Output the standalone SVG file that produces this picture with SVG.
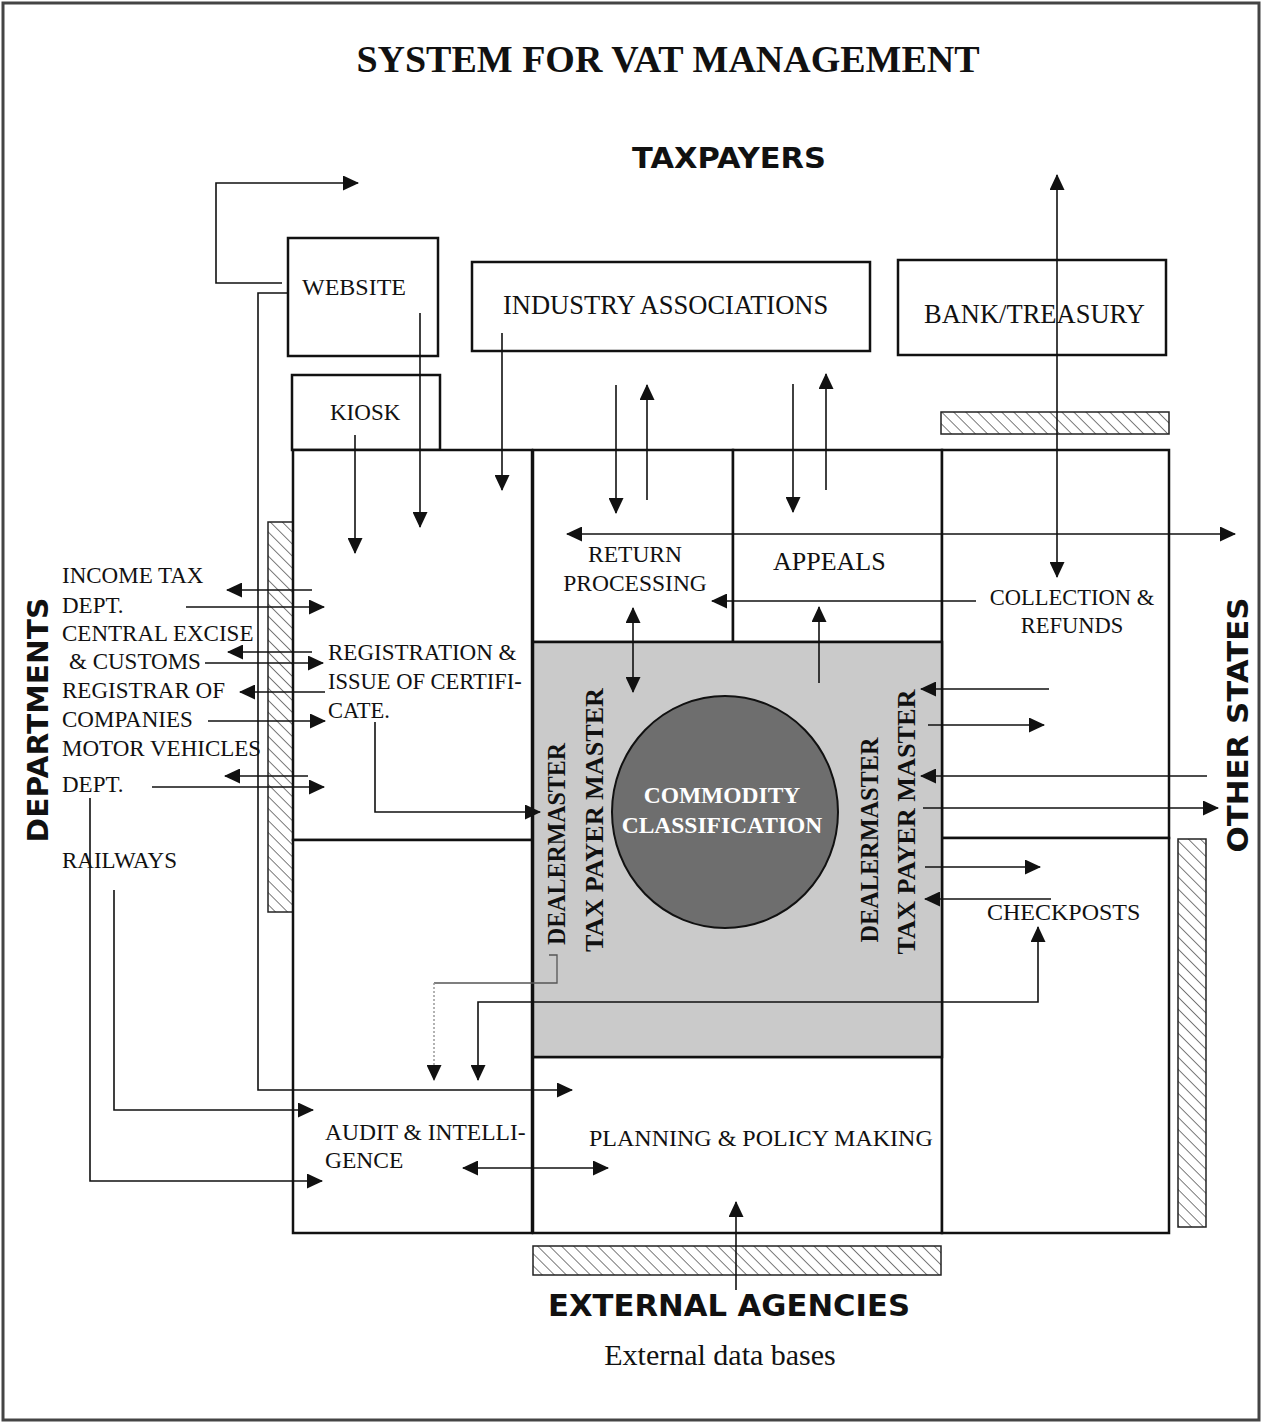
<svg xmlns="http://www.w3.org/2000/svg" width="1263" height="1424" viewBox="0 0 1263 1424">
<defs>
<style>
.box{fill:#fff;stroke:#111;stroke-width:2.5}
.lbl{font-family:"Liberation Serif","Times New Roman",serif;fill:#111}
.big{font-family:"DejaVu Sans","Noto Sans",sans-serif;font-weight:bold;fill:#111}
.vm{font-family:"Liberation Serif","Times New Roman",serif;font-weight:bold;font-size:25px;fill:#111}
.c{fill:none;stroke:#111;stroke-width:1.6}
.ca{fill:none;stroke:#111;stroke-width:1.6;marker-end:url(#ah)}
.cb{fill:none;stroke:#111;stroke-width:1.6;marker-start:url(#ah);marker-end:url(#ah)}
.hatch{fill:url(#hatch);stroke:#222;stroke-width:1.5}
</style>
<pattern id="hatch" width="8.5" height="8.5" patternUnits="userSpaceOnUse" patternTransform="rotate(-45)">
<rect width="8.5" height="8.5" fill="#fff"/>
<line x1="0" y1="0" x2="0" y2="8.5" stroke="#222" stroke-width="1.2"/>
</pattern>
<marker id="ah" markerWidth="16" markerHeight="15" refX="15" refY="7.5" orient="auto-start-reverse" markerUnits="userSpaceOnUse">
<path d="M0,0 L16,7.5 L0,15 z" fill="#111"/>
</marker>
</defs>
<rect x="0" y="0" width="1263" height="1424" fill="#fff"/>
<rect x="3" y="3" width="1256" height="1417" fill="none" stroke="#444" stroke-width="3"/>

<text x="668" y="72" text-anchor="middle" font-family="Liberation Serif, Times New Roman, serif" font-weight="bold" font-size="38" fill="#111">SYSTEM FOR VAT MANAGEMENT</text>
<g id="taxpayers"><text class="big" x="729" y="168" text-anchor="middle" font-size="28" textLength="194" lengthAdjust="spacingAndGlyphs">TAXPAYERS</text></g>
<g id="departments"><text class="big" transform="translate(48,720) rotate(-90)" text-anchor="middle" font-size="28" textLength="245" lengthAdjust="spacingAndGlyphs">DEPARTMENTS</text></g>
<g id="other-states"><text class="big" transform="translate(1248,725) rotate(-90)" text-anchor="middle" font-size="28" textLength="255" lengthAdjust="spacingAndGlyphs">OTHER STATES</text></g>
<g id="external-agencies"><text class="big" x="729" y="1316" text-anchor="middle" font-size="30" textLength="362" lengthAdjust="spacingAndGlyphs">EXTERNAL  AGENCIES</text>
<text x="720" y="1365" text-anchor="middle" font-family="Liberation Serif, Times New Roman, serif" font-size="30" fill="#111">External data bases</text></g>

<g id="hatched-bars">
<rect class="hatch" x="268" y="522" width="25" height="390"/>
<rect class="hatch" x="941" y="412" width="228" height="22"/>
<rect class="hatch" x="1178" y="839" width="28" height="388"/>
<rect class="hatch" x="533" y="1246" width="408" height="29"/>
</g>

<g id="n-website"><rect class="box" x="288" y="238" width="150" height="118"/><text class="lbl" x="302" y="295" font-size="24">WEBSITE</text></g>
<g id="n-kiosk"><rect class="box" x="292" y="375" width="148" height="75"/><text class="lbl" x="330" y="420" font-size="23">KIOSK</text></g>
<g id="n-industry"><rect class="box" x="472" y="262" width="398" height="89"/><text class="lbl" x="503" y="314" font-size="26.5">INDUSTRY  ASSOCIATIONS</text></g>
<g id="n-bank"><rect class="box" x="898" y="260" width="268" height="95"/><text class="lbl" x="924" y="323" font-size="26.5">BANK/TREASURY</text></g>

<g id="n-registration"><rect class="box" x="293" y="450" width="239" height="390"/>
<text class="lbl" x="328" y="660" font-size="23">REGISTRATION &amp;</text>
<text class="lbl" x="328" y="689" font-size="22.5">ISSUE OF CERTIFI-</text>
<text class="lbl" x="328" y="718" font-size="22.5">CATE.</text></g>
<g id="n-return"><rect class="box" x="533" y="450" width="200" height="192"/>
<text class="lbl" x="635" y="562" text-anchor="middle" font-size="23.5">RETURN</text>
<text class="lbl" x="635" y="591" text-anchor="middle" font-size="23.5">PROCESSING</text></g>
<g id="n-appeals"><rect class="box" x="733" y="450" width="209" height="192"/>
<text class="lbl" x="773" y="570" font-size="26">APPEALS</text></g>
<g id="n-collection"><rect class="box" x="942" y="450" width="227" height="388"/>
<text class="lbl" x="1072" y="605" text-anchor="middle" font-size="22.5">COLLECTION &amp;</text>
<text class="lbl" x="1072" y="633" text-anchor="middle" font-size="22.5">REFUNDS</text></g>
<g id="n-audit"><rect class="box" x="293" y="840" width="239" height="393"/>
<text class="lbl" x="325" y="1140" font-size="23.5">AUDIT &amp; INTELLI-</text>
<text class="lbl" x="325" y="1168" font-size="23.5">GENCE</text></g>
<g id="n-planning"><rect class="box" x="533" y="1057" width="409" height="176"/>
<text class="lbl" x="589" y="1146" font-size="24">PLANNING &amp; POLICY MAKING</text></g>
<g id="n-checkposts"><rect class="box" x="942" y="838" width="227" height="395"/>
<text class="lbl" x="987" y="920" font-size="24">CHECKPOSTS</text></g>
<g id="n-master"><rect x="533" y="642" width="409" height="415" fill="#cacaca" stroke="#111" stroke-width="2.5"/>
<text class="vm" transform="translate(565,844) rotate(-90)" text-anchor="middle" textLength="202" lengthAdjust="spacingAndGlyphs">DEALERMASTER</text>
<text class="vm" transform="translate(603,820) rotate(-90)" text-anchor="middle" textLength="264" lengthAdjust="spacingAndGlyphs">TAX PAYER MASTER</text>
<text class="vm" transform="translate(878,840) rotate(-90)" text-anchor="middle" textLength="205" lengthAdjust="spacingAndGlyphs">DEALERMASTER</text>
<text class="vm" transform="translate(915,822) rotate(-90)" text-anchor="middle" textLength="265" lengthAdjust="spacingAndGlyphs">TAX PAYER MASTER</text></g>
<g id="n-commodity"><ellipse cx="725" cy="812" rx="113" ry="116" fill="#6e6e6e" stroke="#111" stroke-width="2"/>
<text x="722" y="803" text-anchor="middle" font-family="Liberation Serif, Times New Roman, serif" font-weight="bold" font-size="23.5" fill="#fff">COMMODITY</text>
<text x="722" y="833" text-anchor="middle" font-family="Liberation Serif, Times New Roman, serif" font-weight="bold" font-size="23.5" fill="#fff">CLASSIFICATION</text></g>

<g id="dept-labels" font-size="23">
<text class="lbl" x="62" y="583">INCOME TAX</text>
<text class="lbl" x="62" y="613">DEPT.</text>
<text class="lbl" x="62" y="641">CENTRAL EXCISE</text>
<text class="lbl" x="69" y="669">&amp; CUSTOMS</text>
<text class="lbl" x="62" y="698">REGISTRAR  OF</text>
<text class="lbl" x="62" y="727">COMPANIES</text>
<text class="lbl" x="62" y="756">MOTOR  VEHICLES</text>
<text class="lbl" x="62" y="792">DEPT.</text>
<text class="lbl" x="62" y="868">RAILWAYS</text>
</g>

<g id="connectors">
<path class="ca" d="M282,283 H216 V183 H358"/>
<path class="ca" d="M288,293 H258 V1090 H572"/>
<path class="ca" d="M420,313 V527"/>
<path class="ca" d="M355,435 V553"/>
<path class="ca" d="M502,333 V490"/>
<path class="ca" d="M616,385 V513"/>
<path class="ca" d="M647,500 V385"/>
<path class="ca" d="M793,384 V512"/>
<path class="ca" d="M826,490 V374"/>
<path class="cb" d="M1057,577 V175"/>
<path class="cb" d="M567,534 H1235"/>
<path class="ca" d="M976,601 H712"/>
<path class="cb" d="M633,608 V692"/>
<path class="ca" d="M819,683 V607"/>
<path class="ca" d="M1049,689 H921"/>
<path class="ca" d="M928,725 H1044"/>
<path class="ca" d="M1207,776 H921"/>
<path class="ca" d="M923,808 H1218"/>
<path class="ca" d="M925,867 H1040"/>
<path class="ca" d="M1051,899 H925"/>
<path class="cb" d="M478,1080 V1002 H1038 V927"/>
<path d="M549,955 H557 V983 H434" fill="none" stroke="#555" stroke-width="1.3"/>
<path d="M434,983 V1080" fill="none" stroke="#999" stroke-width="1.5" stroke-dasharray="2,2" marker-end="url(#ah)"/>
<path class="ca" d="M375,722 V812 H540"/>
<path class="ca" d="M312,590 H227"/>
<path class="ca" d="M186,607 H324"/>
<path class="ca" d="M312,652 H228"/>
<path class="ca" d="M205,663 H323"/>
<path class="ca" d="M325,692 H240"/>
<path class="ca" d="M208,721 H325"/>
<path class="ca" d="M308,776 H225"/>
<path class="ca" d="M152,787 H324"/>
<path class="ca" d="M90,798 V1181 H322"/>
<path class="ca" d="M114,890 V1110 H313"/>
<path class="cb" d="M463,1168 H608"/>
<path class="ca" d="M736,1290 V1202"/>
</g>
</svg>
